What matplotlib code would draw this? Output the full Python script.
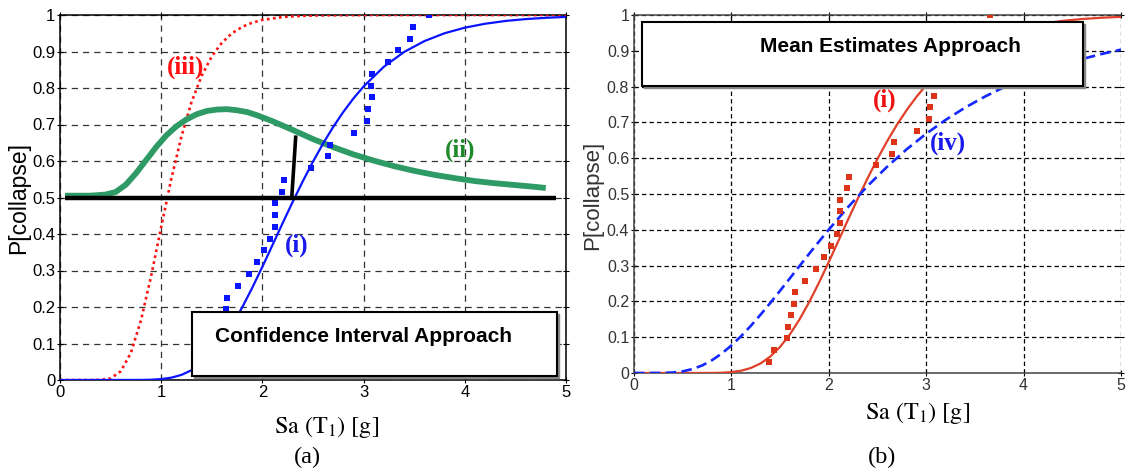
import matplotlib
matplotlib.use("Agg")
import matplotlib.pyplot as plt
from matplotlib.patches import Rectangle
from matplotlib import transforms

plt.rcParams['mathtext.fontset'] = 'stix'

# ---------------- data ----------------
# Curve (i): fitted fragility curve (same in both panels)
sa_i = [0.0, 0.8, 0.9, 1.0, 1.1, 1.2, 1.3, 1.4, 1.5, 1.6, 1.7, 1.8, 1.9, 2.0, 2.1, 2.2, 2.3,
        2.4, 2.5, 2.6, 2.7, 2.8, 2.9, 3.0, 3.2, 3.4, 3.6, 3.8, 4.0, 4.2, 4.4, 4.6, 4.8, 5.0]
p_i = [0.0, 0.0002, 0.0008, 0.0025, 0.0064, 0.014, 0.0268, 0.0461, 0.073, 0.1077, 0.1499,
       0.1988, 0.2528, 0.3103, 0.3699, 0.4298, 0.4884, 0.545, 0.5983, 0.648, 0.6935, 0.7346,
       0.7715, 0.8042, 0.8582, 0.8987, 0.9284, 0.95, 0.9653, 0.976, 0.9836, 0.9888, 0.9923, 0.9948]

# Curve (ii): confidence level curve
sa_ii = [0.05, 0.3, 0.45, 0.55, 0.65, 0.75, 0.85, 0.95, 1.05, 1.15, 1.25, 1.35, 1.45, 1.55,
         1.65, 1.75, 1.85, 1.95, 2.1, 2.3, 2.5, 2.7, 2.9, 3.1, 3.3, 3.5, 3.7, 3.9, 4.1, 4.3,
         4.5, 4.7, 4.8]
p_ii = [0.505, 0.505, 0.508, 0.515, 0.535, 0.566, 0.602, 0.638, 0.67, 0.695, 0.714, 0.728,
        0.737, 0.741, 0.742, 0.739, 0.734, 0.725, 0.709, 0.685, 0.66, 0.638, 0.618, 0.601,
        0.586, 0.573, 0.562, 0.553, 0.545, 0.539, 0.534, 0.529, 0.526]

# Curve (iii): curve at the confidence level
sa_iii = [0.0, 0.3, 0.4, 0.5, 0.6, 0.7, 0.8, 0.9, 1.0, 1.1, 1.2, 1.3, 1.4, 1.5, 1.6, 1.7, 1.8,
          1.9, 2.0, 2.2, 2.4, 2.6, 3.0, 4.0, 5.0]
p_iii = [0.0, 0.0, 0.0003, 0.0044, 0.0237, 0.0741, 0.1634, 0.2843, 0.4196, 0.5513, 0.6671,
         0.7615, 0.8338, 0.8868, 0.9243, 0.9501, 0.9675, 0.979, 0.9865, 0.9945, 0.9978, 0.9991,
         0.9999, 1.0, 1.0]

# Curve (iv): mean estimate curve
sa_iv = [0.0, 0.3, 0.4, 0.5, 0.6, 0.7, 0.8, 0.9, 1.0, 1.1, 1.2, 1.3, 1.4, 1.5, 1.6, 1.7, 1.8,
         1.9, 2.0, 2.2, 2.4, 2.6, 2.8, 3.0, 3.2, 3.4, 3.6, 3.8, 4.0, 4.2, 4.4, 4.6, 4.8, 5.0]
p_iv = [0.0, 0.0003, 0.0014, 0.0046, 0.011, 0.0211, 0.0356, 0.0542, 0.0769, 0.103, 0.1319,
        0.1631, 0.196, 0.2299, 0.2644, 0.299, 0.3336, 0.3675, 0.4006, 0.4641, 0.5229, 0.5765,
        0.625, 0.6684, 0.7071, 0.7414, 0.7717, 0.7985, 0.822, 0.8428, 0.861, 0.877, 0.891, 0.9034]

# Observed collapse data (empirical CDF)
sa_obs = [1.39, 1.44, 1.57, 1.58, 1.61, 1.64, 1.65, 1.76, 1.87, 1.95, 2.02, 2.08, 2.12, 2.12,
          2.12, 2.19, 2.21, 2.48, 2.65, 2.67, 2.91, 3.03, 3.04, 3.08, 3.07, 3.08, 3.24, 3.34,
          3.46, 3.49, 3.65]
p_obs = [0.032, 0.065, 0.097, 0.129, 0.161, 0.194, 0.226, 0.258, 0.29, 0.323, 0.355, 0.387,
         0.419, 0.452, 0.484, 0.516, 0.548, 0.581, 0.613, 0.645, 0.677, 0.71, 0.742, 0.774,
         0.806, 0.839, 0.871, 0.903, 0.935, 0.968, 1.0]

# Median markers (black lines) in panel (a)
median_h_sa = [0.05, 4.9]
median_h_p = [0.5, 0.5]
median_v_sa = [2.29, 2.33]
median_v_p = [0.5, 0.67]

x_ticks = [0, 1, 2, 3, 4, 5]
x_ticklabels = ['0', '1', '2', '3', '4', '5']
y_ticks = [0, 0.1, 0.2, 0.3, 0.4, 0.5, 0.6, 0.7, 0.8, 0.9, 1.0]
y_ticklabels = ['0', '0.1', '0.2', '0.3', '0.4', '0.5', '0.6', '0.7', '0.8', '0.9', '1']

# ---------------- figure ----------------
W, H = 1126, 470
fig = plt.figure(figsize=(W / 100, H / 100), dpi=100)

def fx(px):
    return px / W

def fy(py):
    return 1 - py / H

sans = 'Liberation Sans'
serif = 'Liberation Serif'

axL = fig.add_axes([fx(60), fy(380), fx(566) - fx(60), fy(15) - fy(380)])
axR = fig.add_axes([fx(634), fy(373), fx(1121) - fx(634), fy(15) - fy(373)])

for ax, gcol, dash, tcol, tfs in [(axL, '#333333', (5, 4), 'black', 12),
                                  (axR, 'black', (3.5, 2.5), '#333333', 11.5)]:
    ax.set_xlim(0, 5)
    ax.set_ylim(0, 1)
    ax.set_xticks(x_ticks)
    ax.set_xticklabels(x_ticklabels, fontfamily=sans, fontsize=tfs, color=tcol)
    ax.set_yticks(y_ticks)
    ax.set_yticklabels(y_ticklabels, fontfamily=sans, fontsize=tfs, color=tcol)
    ax.tick_params(direction='inout', length=4, width=0.8, pad=1.5, top=True, right=True)
    ax.grid(True, color=gcol, linestyle=(0, dash), linewidth=0.9)
    ax.set_axisbelow(True)
    for s in ax.spines.values():
        s.set_linewidth(1.1)
        s.set_color('black')

axR.spines['right'].set_visible(False)
for s in axR.spines.values():
    s.set_color('#444444')

# ---- panel (a) ----
axL.plot(sa_iii, p_iii, color='#ff1010', linestyle=(0, (1, 1.3)), linewidth=1.9, zorder=3)
axL.plot(sa_ii, p_ii, color='#2e9a66', linewidth=4.2, zorder=3, solid_capstyle='butt')
axL.plot(sa_i, p_i, color='#0a14ff', linewidth=1.6, zorder=4)
axL.plot(median_h_sa, median_h_p, color='black', linewidth=3.2, zorder=5, solid_capstyle='butt')
axL.plot(median_v_sa, median_v_p, color='black', linewidth=2.6, zorder=5, solid_capstyle='butt')
axL.plot(sa_obs, p_obs, linestyle='none', marker='s', markersize=4.2, color='#0a14ff',
         markeredgewidth=0, zorder=4)

axL.text(1.24, 0.858, '(iii)', color='#ff1010', fontfamily=serif, fontweight='bold',
         fontsize=18, ha='center', va='center', zorder=6)
axL.text(3.95, 0.63, '(ii)', color='#1f8a2a', fontfamily=serif, fontweight='bold',
         fontsize=18, ha='center', va='center', zorder=6)
axL.text(2.34, 0.368, '(i)', color='#1a1aee', fontfamily=serif, fontweight='bold',
         fontsize=18, ha='center', va='center', zorder=6)

shadowL = transforms.offset_copy(axL.transData, fig=fig, x=2, y=-2, units='dots')
axL.add_patch(Rectangle((1.30, 0.011), 3.61, 0.175, transform=shadowL, facecolor='#888888',
                        edgecolor='#888888', linewidth=1.0, zorder=7))
axL.add_patch(Rectangle((1.30, 0.011), 3.61, 0.175, facecolor='white', edgecolor='black',
                        linewidth=1.5, zorder=8))
axL.text(3.0, 0.12, 'Confidence Interval Approach', fontfamily=sans, fontweight='bold',
         fontsize=15, ha='center', va='center', zorder=9)

# ---- panel (b) ----
axR.plot(sa_i, p_i, color='#e0402a', linewidth=1.6, zorder=4)
axR.plot(sa_iv, p_iv, color='#1428ff', linestyle=(0, (4, 2)), linewidth=1.9, zorder=4)
axR.plot(sa_obs, p_obs, linestyle='none', marker='s', markersize=4.2, color='#dd3318',
         markeredgewidth=0, zorder=4)

axR.text(2.57, 0.763, '(i)', color='#ee1111', fontfamily=serif, fontweight='bold',
         fontsize=18, ha='center', va='center', zorder=6)
axR.text(3.22, 0.643, '(iv)', color='#1a1aee', fontfamily=serif, fontweight='bold',
         fontsize=18, ha='center', va='center', zorder=6)

shadowR = transforms.offset_copy(axR.transData, fig=fig, x=2, y=-2, units='dots')
axR.add_patch(Rectangle((0.078, 0.802), 4.53, 0.178, transform=shadowR, facecolor='#888888',
                        edgecolor='#888888', linewidth=1.0, zorder=7))
axR.add_patch(Rectangle((0.078, 0.802), 4.53, 0.178, facecolor='white', edgecolor='black',
                        linewidth=1.5, zorder=8))
axR.text(2.63, 0.913, 'Mean Estimates Approach', fontfamily=sans, fontweight='bold',
         fontsize=15, ha='center', va='center', zorder=9)

# ---- axis labels and panel captions ----
fig.text(fx(18.6), fy(198), 'P[collapse]', rotation=90, fontfamily=sans, fontsize=16.5,
         ha='center', va='center')
fig.text(fx(593), fy(195), 'P[collapse]', rotation=90, fontfamily=sans, fontsize=16,
         ha='center', va='center', color='#333333')
fig.text(fx(327), fy(427), r'$\mathrm{Sa\ (T_1)\ [g]}$', fontsize=17.5, ha='center', va='center')
fig.text(fx(918), fy(413), r'$\mathrm{Sa\ (T_1)\ [g]}$', fontsize=17.5, ha='center', va='center')
fig.text(fx(307), fy(457), '(a)', fontfamily=serif, fontsize=17.5, ha='center', va='center')
fig.text(fx(882), fy(457), '(b)', fontfamily=serif, fontsize=17.5, ha='center', va='center')

fig.savefig('out.png', dpi=100)
